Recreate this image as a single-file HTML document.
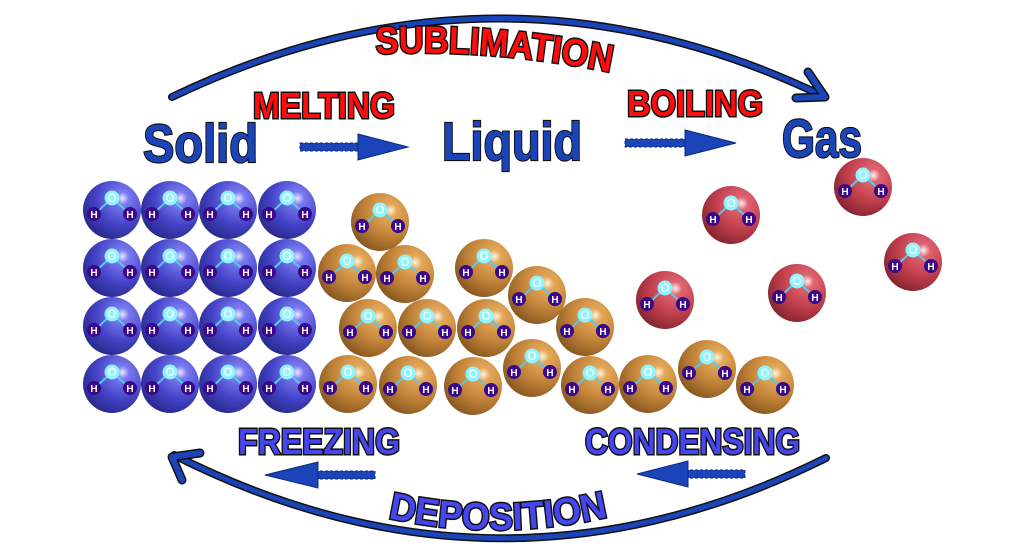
<!DOCTYPE html>
<html><head><meta charset="utf-8"><style>
html,body{margin:0;padding:0;background:#fff;}
svg{display:block}
.big{font-family:"Liberation Sans Narrow","Liberation Sans",sans-serif;font-weight:bold;fill:#1a44b8;stroke:#111;stroke-width:2.2;paint-order:stroke;}
.red{font-family:"Liberation Sans Narrow","Liberation Sans",sans-serif;font-weight:bold;fill:#ff0d0d;stroke:#111;stroke-width:3;paint-order:stroke;}
.blu{font-family:"Liberation Sans Narrow","Liberation Sans",sans-serif;font-weight:bold;fill:#4646ee;stroke:#111;stroke-width:3;paint-order:stroke;}
.a{font-family:"Liberation Sans",sans-serif;font-weight:bold;font-size:10px;fill:#fff;text-anchor:middle;}
.o{font-family:"Liberation Sans",sans-serif;font-weight:bold;font-size:12px;fill:#e8ffff;text-anchor:middle;}
</style></head><body>
<svg width="1024" height="559" viewBox="0 0 1024 559" xmlns="http://www.w3.org/2000/svg">
<defs>
<radialGradient id="gb" cx="0.68" cy="0.3" r="0.75"><stop offset="0" stop-color="#e8e8ff"/><stop offset="0.15" stop-color="#7a7af0"/><stop offset="0.6" stop-color="#4444c8"/><stop offset="1" stop-color="#2a2a90"/></radialGradient>
<radialGradient id="go" cx="0.68" cy="0.3" r="0.75"><stop offset="0" stop-color="#fff4e0"/><stop offset="0.15" stop-color="#e4a85a"/><stop offset="0.6" stop-color="#c08238"/><stop offset="1" stop-color="#8a5a22"/></radialGradient>
<radialGradient id="gr" cx="0.68" cy="0.3" r="0.75"><stop offset="0" stop-color="#fff0f0"/><stop offset="0.15" stop-color="#e06470"/><stop offset="0.6" stop-color="#c03e4c"/><stop offset="1" stop-color="#882632"/></radialGradient>
<path id="dep" d="M388,518 Q497,542 607,517"/>
<path id="sub" d="M376,54 Q490,48 610,72"/>
</defs>

<!-- top arc -->
<path d="M172,97 Q500,-60 825,97" fill="none" stroke="#111" stroke-width="8" stroke-linecap="round"/>
<path d="M172,97 Q500,-60 825,97" fill="none" stroke="#1a44b8" stroke-width="5" stroke-linecap="round"/>
<path d="M808,72 L825,97 L796,98" fill="none" stroke="#111" stroke-width="9" stroke-linecap="round" stroke-linejoin="round"/>
<path d="M808,72 L825,97 L796,98" fill="none" stroke="#1a44b8" stroke-width="6" stroke-linecap="round" stroke-linejoin="round"/>
<!-- bottom arc -->
<path d="M826,458 Q500,620 174,455" fill="none" stroke="#111" stroke-width="8" stroke-linecap="round"/>
<path d="M826,458 Q500,620 174,455" fill="none" stroke="#1a44b8" stroke-width="5" stroke-linecap="round"/>
<path d="M182,480 L172,457 L200,453" fill="none" stroke="#111" stroke-width="9" stroke-linecap="round" stroke-linejoin="round"/>
<path d="M182,480 L172,457 L200,453" fill="none" stroke="#1a44b8" stroke-width="6" stroke-linecap="round" stroke-linejoin="round"/>

<!-- dashed arrows -->
<g fill="#1a44b8" stroke="#0a2a80" stroke-width="1">
<rect x="300" y="143" width="60" height="8" stroke-dasharray="3 2"/><polygon points="358,134 408,147 358,160"/>
<rect x="625" y="139" width="62" height="8" stroke-dasharray="3 2"/><polygon points="685,130 736,143 685,156"/>
<rect x="315" y="471" width="60" height="8" stroke-dasharray="3 2"/><polygon points="318,462 265,475 318,488"/>
<rect x="685" y="470" width="60" height="8" stroke-dasharray="3 2"/><polygon points="688,461 637,474 688,487"/>
</g>

<!-- labels -->
<text class="big" x="143" y="162" font-size="54" textLength="115" lengthAdjust="spacingAndGlyphs">Solid</text>
<text class="big" x="442" y="160" font-size="54" textLength="140" lengthAdjust="spacingAndGlyphs">Liquid</text>
<text class="big" x="782" y="157" font-size="54" textLength="80" lengthAdjust="spacingAndGlyphs">Gas</text>
<text class="red" font-size="38"><textPath href="#sub" textLength="236" lengthAdjust="spacingAndGlyphs">SUBLIMATION</textPath></text>
<text class="red" x="253" y="118" font-size="36" textLength="142" lengthAdjust="spacingAndGlyphs">MELTING</text>
<text class="red" x="627" y="116" font-size="36" textLength="136" lengthAdjust="spacingAndGlyphs">BOILING</text>
<text class="blu" x="238" y="454" font-size="36" textLength="162" lengthAdjust="spacingAndGlyphs">FREEZING</text>
<text class="blu" x="585" y="454" font-size="36" textLength="215" lengthAdjust="spacingAndGlyphs">CONDENSING</text>
<text class="blu" font-size="38"><textPath href="#dep" textLength="222" lengthAdjust="spacingAndGlyphs">DEPOSITION</textPath></text>

<!-- molecules -->
<g id="mols">
<g transform="translate(112,210)"><circle r="29" fill="url(#gb)"/><path d="M-17,4 L0,-12 L18,4" stroke="#5cc8e8" stroke-width="2" fill="none"/><circle cy="-12" r="7.5" fill="#8ff4ff"/><circle cx="-18" cy="4" r="7" fill="#3a0888"/><circle cx="18" cy="4" r="7" fill="#3a0888"/><text class="o" y="-8">O</text><text class="a" x="-18" y="8">H</text><text class="a" x="18" y="8">H</text></g>
<g transform="translate(170,210)"><circle r="29" fill="url(#gb)"/><path d="M-17,4 L0,-12 L18,4" stroke="#5cc8e8" stroke-width="2" fill="none"/><circle cy="-12" r="7.5" fill="#8ff4ff"/><circle cx="-18" cy="4" r="7" fill="#3a0888"/><circle cx="18" cy="4" r="7" fill="#3a0888"/><text class="o" y="-8">O</text><text class="a" x="-18" y="8">H</text><text class="a" x="18" y="8">H</text></g>
<g transform="translate(228,210)"><circle r="29" fill="url(#gb)"/><path d="M-17,4 L0,-12 L18,4" stroke="#5cc8e8" stroke-width="2" fill="none"/><circle cy="-12" r="7.5" fill="#8ff4ff"/><circle cx="-18" cy="4" r="7" fill="#3a0888"/><circle cx="18" cy="4" r="7" fill="#3a0888"/><text class="o" y="-8">O</text><text class="a" x="-18" y="8">H</text><text class="a" x="18" y="8">H</text></g>
<g transform="translate(287,210)"><circle r="29" fill="url(#gb)"/><path d="M-17,4 L0,-12 L18,4" stroke="#5cc8e8" stroke-width="2" fill="none"/><circle cy="-12" r="7.5" fill="#8ff4ff"/><circle cx="-18" cy="4" r="7" fill="#3a0888"/><circle cx="18" cy="4" r="7" fill="#3a0888"/><text class="o" y="-8">O</text><text class="a" x="-18" y="8">H</text><text class="a" x="18" y="8">H</text></g>
<g transform="translate(112,268)"><circle r="29" fill="url(#gb)"/><path d="M-17,4 L0,-12 L18,4" stroke="#5cc8e8" stroke-width="2" fill="none"/><circle cy="-12" r="7.5" fill="#8ff4ff"/><circle cx="-18" cy="4" r="7" fill="#3a0888"/><circle cx="18" cy="4" r="7" fill="#3a0888"/><text class="o" y="-8">O</text><text class="a" x="-18" y="8">H</text><text class="a" x="18" y="8">H</text></g>
<g transform="translate(170,268)"><circle r="29" fill="url(#gb)"/><path d="M-17,4 L0,-12 L18,4" stroke="#5cc8e8" stroke-width="2" fill="none"/><circle cy="-12" r="7.5" fill="#8ff4ff"/><circle cx="-18" cy="4" r="7" fill="#3a0888"/><circle cx="18" cy="4" r="7" fill="#3a0888"/><text class="o" y="-8">O</text><text class="a" x="-18" y="8">H</text><text class="a" x="18" y="8">H</text></g>
<g transform="translate(228,268)"><circle r="29" fill="url(#gb)"/><path d="M-17,4 L0,-12 L18,4" stroke="#5cc8e8" stroke-width="2" fill="none"/><circle cy="-12" r="7.5" fill="#8ff4ff"/><circle cx="-18" cy="4" r="7" fill="#3a0888"/><circle cx="18" cy="4" r="7" fill="#3a0888"/><text class="o" y="-8">O</text><text class="a" x="-18" y="8">H</text><text class="a" x="18" y="8">H</text></g>
<g transform="translate(287,268)"><circle r="29" fill="url(#gb)"/><path d="M-17,4 L0,-12 L18,4" stroke="#5cc8e8" stroke-width="2" fill="none"/><circle cy="-12" r="7.5" fill="#8ff4ff"/><circle cx="-18" cy="4" r="7" fill="#3a0888"/><circle cx="18" cy="4" r="7" fill="#3a0888"/><text class="o" y="-8">O</text><text class="a" x="-18" y="8">H</text><text class="a" x="18" y="8">H</text></g>
<g transform="translate(112,326)"><circle r="29" fill="url(#gb)"/><path d="M-17,4 L0,-12 L18,4" stroke="#5cc8e8" stroke-width="2" fill="none"/><circle cy="-12" r="7.5" fill="#8ff4ff"/><circle cx="-18" cy="4" r="7" fill="#3a0888"/><circle cx="18" cy="4" r="7" fill="#3a0888"/><text class="o" y="-8">O</text><text class="a" x="-18" y="8">H</text><text class="a" x="18" y="8">H</text></g>
<g transform="translate(170,326)"><circle r="29" fill="url(#gb)"/><path d="M-17,4 L0,-12 L18,4" stroke="#5cc8e8" stroke-width="2" fill="none"/><circle cy="-12" r="7.5" fill="#8ff4ff"/><circle cx="-18" cy="4" r="7" fill="#3a0888"/><circle cx="18" cy="4" r="7" fill="#3a0888"/><text class="o" y="-8">O</text><text class="a" x="-18" y="8">H</text><text class="a" x="18" y="8">H</text></g>
<g transform="translate(228,326)"><circle r="29" fill="url(#gb)"/><path d="M-17,4 L0,-12 L18,4" stroke="#5cc8e8" stroke-width="2" fill="none"/><circle cy="-12" r="7.5" fill="#8ff4ff"/><circle cx="-18" cy="4" r="7" fill="#3a0888"/><circle cx="18" cy="4" r="7" fill="#3a0888"/><text class="o" y="-8">O</text><text class="a" x="-18" y="8">H</text><text class="a" x="18" y="8">H</text></g>
<g transform="translate(287,326)"><circle r="29" fill="url(#gb)"/><path d="M-17,4 L0,-12 L18,4" stroke="#5cc8e8" stroke-width="2" fill="none"/><circle cy="-12" r="7.5" fill="#8ff4ff"/><circle cx="-18" cy="4" r="7" fill="#3a0888"/><circle cx="18" cy="4" r="7" fill="#3a0888"/><text class="o" y="-8">O</text><text class="a" x="-18" y="8">H</text><text class="a" x="18" y="8">H</text></g>
<g transform="translate(112,384)"><circle r="29" fill="url(#gb)"/><path d="M-17,4 L0,-12 L18,4" stroke="#5cc8e8" stroke-width="2" fill="none"/><circle cy="-12" r="7.5" fill="#8ff4ff"/><circle cx="-18" cy="4" r="7" fill="#3a0888"/><circle cx="18" cy="4" r="7" fill="#3a0888"/><text class="o" y="-8">O</text><text class="a" x="-18" y="8">H</text><text class="a" x="18" y="8">H</text></g>
<g transform="translate(170,384)"><circle r="29" fill="url(#gb)"/><path d="M-17,4 L0,-12 L18,4" stroke="#5cc8e8" stroke-width="2" fill="none"/><circle cy="-12" r="7.5" fill="#8ff4ff"/><circle cx="-18" cy="4" r="7" fill="#3a0888"/><circle cx="18" cy="4" r="7" fill="#3a0888"/><text class="o" y="-8">O</text><text class="a" x="-18" y="8">H</text><text class="a" x="18" y="8">H</text></g>
<g transform="translate(228,384)"><circle r="29" fill="url(#gb)"/><path d="M-17,4 L0,-12 L18,4" stroke="#5cc8e8" stroke-width="2" fill="none"/><circle cy="-12" r="7.5" fill="#8ff4ff"/><circle cx="-18" cy="4" r="7" fill="#3a0888"/><circle cx="18" cy="4" r="7" fill="#3a0888"/><text class="o" y="-8">O</text><text class="a" x="-18" y="8">H</text><text class="a" x="18" y="8">H</text></g>
<g transform="translate(287,384)"><circle r="29" fill="url(#gb)"/><path d="M-17,4 L0,-12 L18,4" stroke="#5cc8e8" stroke-width="2" fill="none"/><circle cy="-12" r="7.5" fill="#8ff4ff"/><circle cx="-18" cy="4" r="7" fill="#3a0888"/><circle cx="18" cy="4" r="7" fill="#3a0888"/><text class="o" y="-8">O</text><text class="a" x="-18" y="8">H</text><text class="a" x="18" y="8">H</text></g>
<g transform="translate(380,222)"><circle r="29" fill="url(#go)"/><path d="M-17,4 L0,-12 L18,4" stroke="#5cc8e8" stroke-width="2" fill="none"/><circle cy="-12" r="7.5" fill="#8ff4ff"/><circle cx="-18" cy="4" r="7" fill="#3a0888"/><circle cx="18" cy="4" r="7" fill="#3a0888"/><text class="o" y="-8">O</text><text class="a" x="-18" y="8">H</text><text class="a" x="18" y="8">H</text></g>
<g transform="translate(347,273)"><circle r="29" fill="url(#go)"/><path d="M-17,4 L0,-12 L18,4" stroke="#5cc8e8" stroke-width="2" fill="none"/><circle cy="-12" r="7.5" fill="#8ff4ff"/><circle cx="-18" cy="4" r="7" fill="#3a0888"/><circle cx="18" cy="4" r="7" fill="#3a0888"/><text class="o" y="-8">O</text><text class="a" x="-18" y="8">H</text><text class="a" x="18" y="8">H</text></g>
<g transform="translate(405,274)"><circle r="29" fill="url(#go)"/><path d="M-17,4 L0,-12 L18,4" stroke="#5cc8e8" stroke-width="2" fill="none"/><circle cy="-12" r="7.5" fill="#8ff4ff"/><circle cx="-18" cy="4" r="7" fill="#3a0888"/><circle cx="18" cy="4" r="7" fill="#3a0888"/><text class="o" y="-8">O</text><text class="a" x="-18" y="8">H</text><text class="a" x="18" y="8">H</text></g>
<g transform="translate(484,268)"><circle r="29" fill="url(#go)"/><path d="M-17,4 L0,-12 L18,4" stroke="#5cc8e8" stroke-width="2" fill="none"/><circle cy="-12" r="7.5" fill="#8ff4ff"/><circle cx="-18" cy="4" r="7" fill="#3a0888"/><circle cx="18" cy="4" r="7" fill="#3a0888"/><text class="o" y="-8">O</text><text class="a" x="-18" y="8">H</text><text class="a" x="18" y="8">H</text></g>
<g transform="translate(537,295)"><circle r="29" fill="url(#go)"/><path d="M-17,4 L0,-12 L18,4" stroke="#5cc8e8" stroke-width="2" fill="none"/><circle cy="-12" r="7.5" fill="#8ff4ff"/><circle cx="-18" cy="4" r="7" fill="#3a0888"/><circle cx="18" cy="4" r="7" fill="#3a0888"/><text class="o" y="-8">O</text><text class="a" x="-18" y="8">H</text><text class="a" x="18" y="8">H</text></g>
<g transform="translate(368,328)"><circle r="29" fill="url(#go)"/><path d="M-17,4 L0,-12 L18,4" stroke="#5cc8e8" stroke-width="2" fill="none"/><circle cy="-12" r="7.5" fill="#8ff4ff"/><circle cx="-18" cy="4" r="7" fill="#3a0888"/><circle cx="18" cy="4" r="7" fill="#3a0888"/><text class="o" y="-8">O</text><text class="a" x="-18" y="8">H</text><text class="a" x="18" y="8">H</text></g>
<g transform="translate(427,328)"><circle r="29" fill="url(#go)"/><path d="M-17,4 L0,-12 L18,4" stroke="#5cc8e8" stroke-width="2" fill="none"/><circle cy="-12" r="7.5" fill="#8ff4ff"/><circle cx="-18" cy="4" r="7" fill="#3a0888"/><circle cx="18" cy="4" r="7" fill="#3a0888"/><text class="o" y="-8">O</text><text class="a" x="-18" y="8">H</text><text class="a" x="18" y="8">H</text></g>
<g transform="translate(486,328)"><circle r="29" fill="url(#go)"/><path d="M-17,4 L0,-12 L18,4" stroke="#5cc8e8" stroke-width="2" fill="none"/><circle cy="-12" r="7.5" fill="#8ff4ff"/><circle cx="-18" cy="4" r="7" fill="#3a0888"/><circle cx="18" cy="4" r="7" fill="#3a0888"/><text class="o" y="-8">O</text><text class="a" x="-18" y="8">H</text><text class="a" x="18" y="8">H</text></g>
<g transform="translate(585,327)"><circle r="29" fill="url(#go)"/><path d="M-17,4 L0,-12 L18,4" stroke="#5cc8e8" stroke-width="2" fill="none"/><circle cy="-12" r="7.5" fill="#8ff4ff"/><circle cx="-18" cy="4" r="7" fill="#3a0888"/><circle cx="18" cy="4" r="7" fill="#3a0888"/><text class="o" y="-8">O</text><text class="a" x="-18" y="8">H</text><text class="a" x="18" y="8">H</text></g>
<g transform="translate(348,384)"><circle r="29" fill="url(#go)"/><path d="M-17,4 L0,-12 L18,4" stroke="#5cc8e8" stroke-width="2" fill="none"/><circle cy="-12" r="7.5" fill="#8ff4ff"/><circle cx="-18" cy="4" r="7" fill="#3a0888"/><circle cx="18" cy="4" r="7" fill="#3a0888"/><text class="o" y="-8">O</text><text class="a" x="-18" y="8">H</text><text class="a" x="18" y="8">H</text></g>
<g transform="translate(408,385)"><circle r="29" fill="url(#go)"/><path d="M-17,4 L0,-12 L18,4" stroke="#5cc8e8" stroke-width="2" fill="none"/><circle cy="-12" r="7.5" fill="#8ff4ff"/><circle cx="-18" cy="4" r="7" fill="#3a0888"/><circle cx="18" cy="4" r="7" fill="#3a0888"/><text class="o" y="-8">O</text><text class="a" x="-18" y="8">H</text><text class="a" x="18" y="8">H</text></g>
<g transform="translate(473,386)"><circle r="29" fill="url(#go)"/><path d="M-17,4 L0,-12 L18,4" stroke="#5cc8e8" stroke-width="2" fill="none"/><circle cy="-12" r="7.5" fill="#8ff4ff"/><circle cx="-18" cy="4" r="7" fill="#3a0888"/><circle cx="18" cy="4" r="7" fill="#3a0888"/><text class="o" y="-8">O</text><text class="a" x="-18" y="8">H</text><text class="a" x="18" y="8">H</text></g>
<g transform="translate(532,368)"><circle r="29" fill="url(#go)"/><path d="M-17,4 L0,-12 L18,4" stroke="#5cc8e8" stroke-width="2" fill="none"/><circle cy="-12" r="7.5" fill="#8ff4ff"/><circle cx="-18" cy="4" r="7" fill="#3a0888"/><circle cx="18" cy="4" r="7" fill="#3a0888"/><text class="o" y="-8">O</text><text class="a" x="-18" y="8">H</text><text class="a" x="18" y="8">H</text></g>
<g transform="translate(590,385)"><circle r="29" fill="url(#go)"/><path d="M-17,4 L0,-12 L18,4" stroke="#5cc8e8" stroke-width="2" fill="none"/><circle cy="-12" r="7.5" fill="#8ff4ff"/><circle cx="-18" cy="4" r="7" fill="#3a0888"/><circle cx="18" cy="4" r="7" fill="#3a0888"/><text class="o" y="-8">O</text><text class="a" x="-18" y="8">H</text><text class="a" x="18" y="8">H</text></g>
<g transform="translate(648,384)"><circle r="29" fill="url(#go)"/><path d="M-17,4 L0,-12 L18,4" stroke="#5cc8e8" stroke-width="2" fill="none"/><circle cy="-12" r="7.5" fill="#8ff4ff"/><circle cx="-18" cy="4" r="7" fill="#3a0888"/><circle cx="18" cy="4" r="7" fill="#3a0888"/><text class="o" y="-8">O</text><text class="a" x="-18" y="8">H</text><text class="a" x="18" y="8">H</text></g>
<g transform="translate(707,369)"><circle r="29" fill="url(#go)"/><path d="M-17,4 L0,-12 L18,4" stroke="#5cc8e8" stroke-width="2" fill="none"/><circle cy="-12" r="7.5" fill="#8ff4ff"/><circle cx="-18" cy="4" r="7" fill="#3a0888"/><circle cx="18" cy="4" r="7" fill="#3a0888"/><text class="o" y="-8">O</text><text class="a" x="-18" y="8">H</text><text class="a" x="18" y="8">H</text></g>
<g transform="translate(765,385)"><circle r="29" fill="url(#go)"/><path d="M-17,4 L0,-12 L18,4" stroke="#5cc8e8" stroke-width="2" fill="none"/><circle cy="-12" r="7.5" fill="#8ff4ff"/><circle cx="-18" cy="4" r="7" fill="#3a0888"/><circle cx="18" cy="4" r="7" fill="#3a0888"/><text class="o" y="-8">O</text><text class="a" x="-18" y="8">H</text><text class="a" x="18" y="8">H</text></g>
<g transform="translate(731,215)"><circle r="29" fill="url(#gr)"/><path d="M-17,4 L0,-12 L18,4" stroke="#5cc8e8" stroke-width="2" fill="none"/><circle cy="-12" r="7.5" fill="#8ff4ff"/><circle cx="-18" cy="4" r="7" fill="#3a0888"/><circle cx="18" cy="4" r="7" fill="#3a0888"/><text class="o" y="-8">O</text><text class="a" x="-18" y="8">H</text><text class="a" x="18" y="8">H</text></g>
<g transform="translate(863,187)"><circle r="29" fill="url(#gr)"/><path d="M-17,4 L0,-12 L18,4" stroke="#5cc8e8" stroke-width="2" fill="none"/><circle cy="-12" r="7.5" fill="#8ff4ff"/><circle cx="-18" cy="4" r="7" fill="#3a0888"/><circle cx="18" cy="4" r="7" fill="#3a0888"/><text class="o" y="-8">O</text><text class="a" x="-18" y="8">H</text><text class="a" x="18" y="8">H</text></g>
<g transform="translate(913,262)"><circle r="29" fill="url(#gr)"/><path d="M-17,4 L0,-12 L18,4" stroke="#5cc8e8" stroke-width="2" fill="none"/><circle cy="-12" r="7.5" fill="#8ff4ff"/><circle cx="-18" cy="4" r="7" fill="#3a0888"/><circle cx="18" cy="4" r="7" fill="#3a0888"/><text class="o" y="-8">O</text><text class="a" x="-18" y="8">H</text><text class="a" x="18" y="8">H</text></g>
<g transform="translate(665,300)"><circle r="29" fill="url(#gr)"/><path d="M-17,4 L0,-12 L18,4" stroke="#5cc8e8" stroke-width="2" fill="none"/><circle cy="-12" r="7.5" fill="#8ff4ff"/><circle cx="-18" cy="4" r="7" fill="#3a0888"/><circle cx="18" cy="4" r="7" fill="#3a0888"/><text class="o" y="-8">O</text><text class="a" x="-18" y="8">H</text><text class="a" x="18" y="8">H</text></g>
<g transform="translate(797,293)"><circle r="29" fill="url(#gr)"/><path d="M-17,4 L0,-12 L18,4" stroke="#5cc8e8" stroke-width="2" fill="none"/><circle cy="-12" r="7.5" fill="#8ff4ff"/><circle cx="-18" cy="4" r="7" fill="#3a0888"/><circle cx="18" cy="4" r="7" fill="#3a0888"/><text class="o" y="-8">O</text><text class="a" x="-18" y="8">H</text><text class="a" x="18" y="8">H</text></g>
</g>
</svg>
</body></html>
